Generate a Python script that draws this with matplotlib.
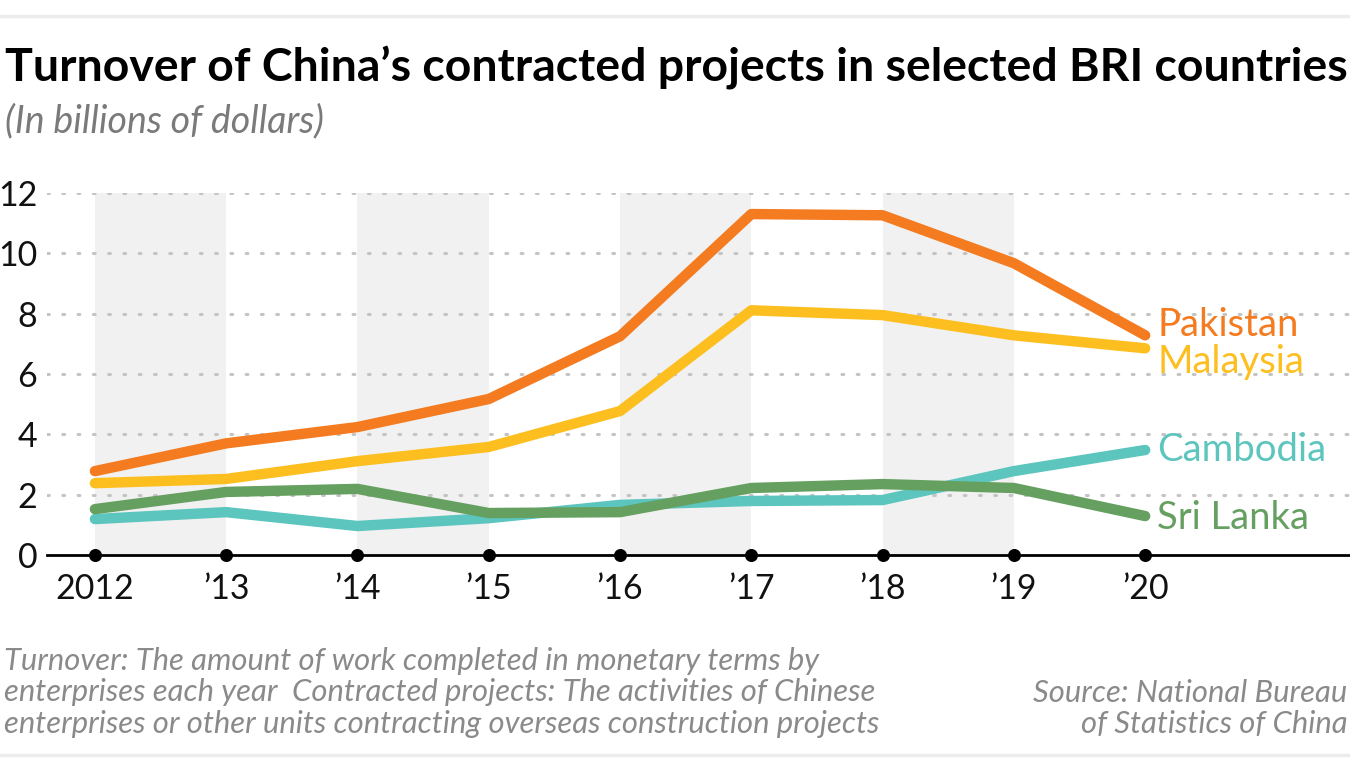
import numpy as np
import matplotlib.pyplot as plt

years = [2012, 2013, 2014, 2015, 2016, 2017, 2018, 2019, 2020]
year_labels = ['2012', '\u201913', '\u201914', '\u201915', '\u201916', '\u201917', '\u201918', '\u201919', '\u201920']

pakistan = [2.78, 3.70, 4.24, 5.17, 7.25, 11.30, 11.26, 9.67, 7.28]
malaysia = [2.38, 2.52, 3.11, 3.58, 4.77, 8.11, 7.95, 7.28, 6.85]
cambodia = [1.19, 1.42, 0.96, 1.22, 1.66, 1.79, 1.82, 2.78, 3.48]
sri_lanka = [1.52, 2.09, 2.19, 1.39, 1.42, 2.22, 2.35, 2.22, 1.29]

series = [
    ('Pakistan', pakistan, '#F47B20', 0.35),
    ('Malaysia', malaysia, '#FDBF1F', -0.45),
    ('Cambodia', cambodia, '#5BC5BE', 0.0),
    ('Sri Lanka', sri_lanka, '#66A061', -0.05),
]

plt.rcParams['font.family'] = ['Lato', 'DejaVu Sans']

fig = plt.figure(figsize=(13.5, 7.59), dpi=100)
ax = fig.add_axes([0.0348, 0.2688, 0.9652, 0.477])

# shaded year bands
for start in [2012, 2014, 2016, 2018]:
    ax.axvspan(start, start + 1, color='#f1f1f1', lw=0, zorder=0)

# dotted grid
for y in range(2, 13, 2):
    ax.axhline(y, color='#c4c4c4', lw=2.2, ls=(0, (0.6, 4.4)), dash_capstyle='round', zorder=1)

for name, vals, col, dy in series:
    ax.plot(years, vals, color=col, lw=7.5, solid_capstyle='round', solid_joinstyle='round',
            zorder=3, clip_on=False)
    ax.text(years[-1] + 0.09, vals[-1] + dy, name, color=col, fontsize=27.5,
            va='center', ha='left')

# baseline with dots
ax.axhline(0, color='black', lw=2, zorder=4, clip_on=False)
ax.scatter(years, [0] * len(years), s=70, color='black', zorder=5, clip_on=False)

ax.set_xlim(2011.635, 2021.56)
ax.set_ylim(0, 12)
ax.set_xticks(years)
ax.set_xticklabels(year_labels)
ax.set_yticks(range(0, 13, 2))
ax.tick_params(axis='both', length=0, labelsize=24.5, colors='#111111')
ax.tick_params(axis='x', pad=13)
ax.tick_params(axis='y', pad=7)
for s in ax.spines.values():
    s.set_visible(False)

# titles
fig.text(0.004, 0.91, 'Turnover of China\u2019s contracted projects in selected BRI countries',
         fontsize=33.4, fontweight='bold', color='black', va='center', ha='left')
fig.text(0.004, 0.84, '(In billions of dollars)', fontsize=27, style='italic',
         color='#7a7a7a', va='center', ha='left')

# footer
note = ('Turnover: The amount of work completed in monetary terms by\n'
        'enterprises each year  Contracted projects: The activities of Chinese\n'
        'enterprises or other units contracting overseas construction projects')
fig.text(0.003, 0.148, note, fontsize=22.3, style='italic', color='#8a8a8a',
         va='top', ha='left', linespacing=1.16)
fig.text(0.998, 0.106, 'Source: National Bureau\nof Statistics of China', fontsize=22.3,
         style='italic', color='#8a8a8a', va='top', ha='right', linespacing=1.16)

# top and bottom rules
fig.add_artist(plt.Line2D([0, 1], [0.979, 0.979], color='#ececec', lw=2.5))
fig.add_artist(plt.Line2D([0, 1], [0.005, 0.005], color='#ececec', lw=2.5))

fig.savefig('out.png', dpi=100)
